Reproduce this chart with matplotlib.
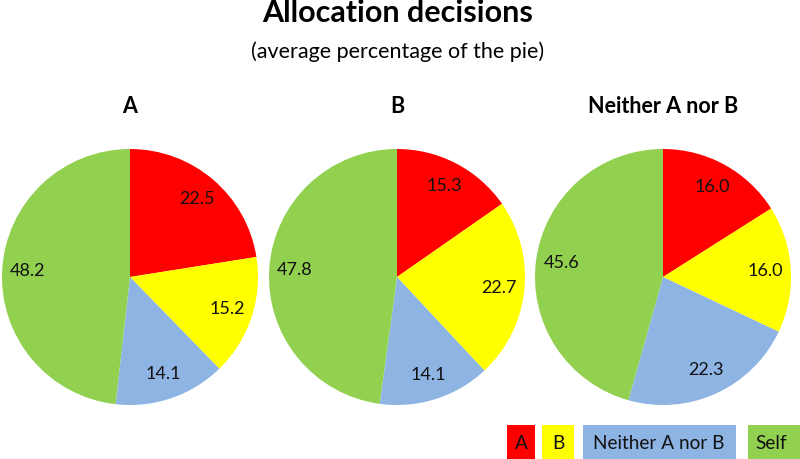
import matplotlib
matplotlib.use("Agg")
import matplotlib.pyplot as plt
from matplotlib.patches import Rectangle

plt.rcParams['font.family'] = ['Lato', 'DejaVu Sans']

categories = ["A", "B", "Neither A nor B", "Self"]
colors = ["#FF0000", "#FFFF00", "#8EB4E3", "#92D050"]
panel_titles = ["A", "B", "Neither A nor B"]
values_A = [22.5, 15.2, 14.1, 48.2]
values_B = [15.3, 22.7, 14.1, 47.8]
values_N = [16.0, 16.0, 22.3, 45.6]
panels = [values_A, values_B, values_N]

W, H = 800, 459
fig = plt.figure(figsize=(8, 4.59), dpi=100)
fig.patch.set_facecolor("white")

fig.text(398 / W, 1 - 22 / H, "Allocation decisions", ha="center", va="baseline",
         fontsize=22, fontweight="bold")
fig.text(398 / W, 1 - 58 / H, "(average percentage of the pie)", ha="center",
         va="baseline", fontsize=15.5)

centers_x = [130, 397, 663]
cy = 277
r = 128
for vals, cx, ttl in zip(panels, centers_x, panel_titles):
    ax = fig.add_axes([(cx - r) / W, (H - cy - r) / H, 2 * r / W, 2 * r / H])
    ax.pie(vals, colors=colors, startangle=90, counterclock=False,
           labels=[f"{v:.1f}" for v in vals], labeldistance=0.8,
           textprops=dict(fontsize=13, ha="center", va="center", color="#111111"),
           wedgeprops=dict(linewidth=0))
    ax.set_xlim(-1, 1)
    ax.set_ylim(-1, 1)
    ax.set_aspect("equal")
    ax.axis("off")
    fig.text(cx / W, 1 - 113 / H, ttl, ha="center", va="baseline",
             fontsize=15.5, fontweight="bold")

# legend boxes
boxes = [(507, 535), (542, 574), (583, 736), (748, 800)]
text_x = [521, 558, 659, 771]
y0, y1 = 425, 459
for (x0, x1), c, lab, tx in zip(boxes, colors, categories, text_x):
    fig.patches.append(Rectangle((x0 / W, 1 - y1 / H), (x1 - x0) / W, (y1 - y0) / H,
                                 transform=fig.transFigure, facecolor=c,
                                 edgecolor="none", zorder=1))
    fig.text(tx / W, 1 - 449 / H, lab, ha="center", va="baseline",
             fontsize=13.7, zorder=2, color="#111111")

fig.savefig("out.png", dpi=100)
